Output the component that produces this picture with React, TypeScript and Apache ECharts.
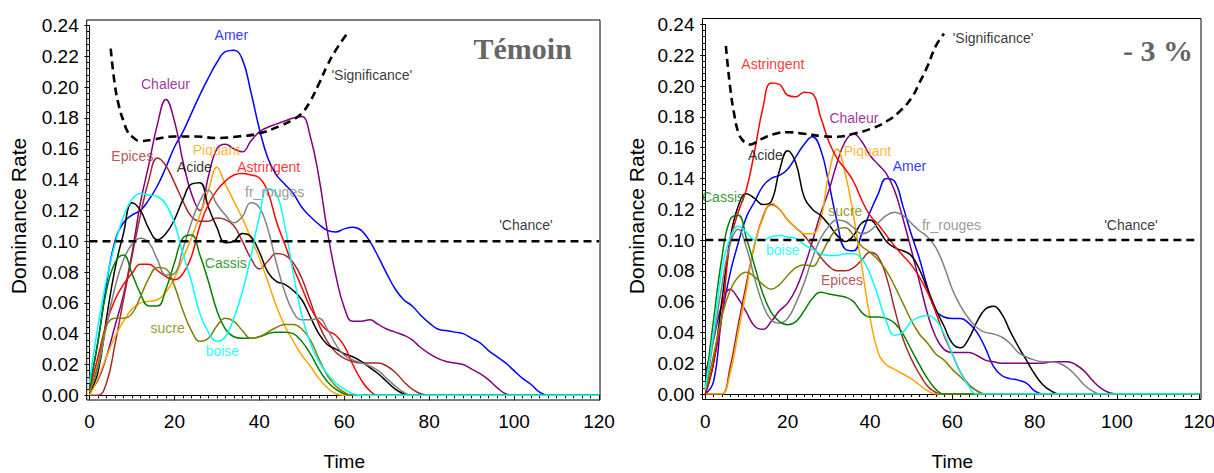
import React, { useEffect, useRef } from "react";
import * as echarts from "echarts";

// ---------- data ----------
const T = [0,2,4,6,8,10,12,14,16,18,20,22,24,26,28,30,32,34,36,38,40,42,44,46,48,50,52,54,56,58,60,62,64,66,68,70,72,74,76,78,80,82,84,86,88,90,92,94,96,98,100,102,104,106,108,110];

const attributes = ["Amer","Chaleur","Epices","Piquant","Acide","Astringent","fr_rouges","Cassis","sucre","boise"];
const attrColors = ["#0000ff","#800080","#a52a2a","#ffa500","#000000","#ff0000","#808080","#008000","#808000","#00ffff"];

// Left panel: Témoin
const amerL = [0.005,0.035,0.072,0.100,0.112,0.117,0.120,0.127,0.136,0.148,0.161,0.171,0.183,0.195,0.206,0.216,0.223,0.224,0.218,0.197,0.173,0.154,0.143,0.137,0.131,0.122,0.116,0.111,0.107,0.106,0.108,0.109,0.107,0.100,0.090,0.079,0.069,0.062,0.058,0.052,0.047,0.043,0.042,0.041,0.040,0.037,0.034,0.029,0.025,0.021,0.016,0.011,0.007,0.002,0];
const chaleurL = [0.002,0.010,0.025,0.045,0.065,0.092,0.125,0.150,0.176,0.192,0.178,0.152,0.131,0.120,0.142,0.160,0.163,0.160,0.158,0.165,0.171,0.174,0.176,0.178,0.180,0.181,0.168,0.142,0.107,0.078,0.057,0.048,0.048,0.049,0.046,0.043,0.041,0.039,0.036,0.031,0.027,0.024,0.022,0.021,0.020,0.017,0.014,0.010,0.005,0.001,0];
const epicesL = [0,0,0.008,0.033,0.062,0.090,0.117,0.140,0.154,0.149,0.138,0.126,0.116,0.113,0.113,0.115,0.114,0.110,0.100,0.089,0.082,0.087,0.092,0.091,0.086,0.076,0.061,0.046,0.035,0.028,0.024,0.022,0.021,0.021,0.021,0.019,0.015,0.009,0.004,0.001,0];
const piquantL = [0,0.011,0.025,0.038,0.048,0.056,0.060,0.061,0.062,0.067,0.076,0.089,0.102,0.117,0.133,0.148,0.137,0.126,0.115,0.102,0.089,0.074,0.058,0.045,0.035,0.026,0.019,0.011,0.005,0.001,0];
const acideL = [0.002,0.015,0.050,0.082,0.105,0.125,0.120,0.108,0.101,0.105,0.114,0.127,0.137,0.138,0.122,0.109,0.099,0.100,0.105,0.103,0.093,0.080,0.074,0.072,0.068,0.062,0.051,0.040,0.033,0.030,0.027,0.025,0.022,0.018,0.014,0.009,0.004,0.001,0];
const astringentL = [0.003,0.025,0.047,0.062,0.072,0.079,0.085,0.085,0.081,0.077,0.075,0.079,0.090,0.110,0.124,0.133,0.139,0.143,0.144,0.143,0.141,0.132,0.113,0.098,0.083,0.070,0.057,0.048,0.042,0.039,0.032,0.020,0.010,0.003,0];
const frRougesL = [0.002,0.018,0.045,0.070,0.088,0.098,0.102,0.099,0.088,0.078,0.079,0.095,0.112,0.126,0.133,0.124,0.117,0.112,0.116,0.125,0.122,0.108,0.086,0.067,0.054,0.049,0.049,0.050,0.043,0.033,0.026,0.023,0.021,0.019,0.016,0.011,0.006,0.002,0];
const cassisL = [0.005,0.035,0.068,0.086,0.091,0.079,0.066,0.058,0.058,0.069,0.086,0.102,0.104,0.091,0.074,0.055,0.043,0.038,0.037,0.037,0.038,0.040,0.041,0.041,0.040,0.035,0.027,0.017,0.009,0.004,0.001,0];
const sucreL = [0.002,0.020,0.045,0.050,0.050,0.053,0.064,0.076,0.083,0.082,0.071,0.055,0.042,0.035,0.037,0.045,0.050,0.048,0.042,0.037,0.038,0.041,0.044,0.046,0.046,0.043,0.036,0.024,0.013,0.006,0.002,0];
const boiseL = [0.008,0.045,0.075,0.098,0.116,0.127,0.131,0.130,0.129,0.124,0.112,0.092,0.074,0.053,0.041,0.035,0.038,0.050,0.067,0.090,0.116,0.134,0.131,0.110,0.079,0.052,0.034,0.022,0.014,0.008,0.004,0.001,0];

// Right panel: - 3 %
const amerR = [0,0.008,0.050,0.078,0.098,0.115,0.125,0.135,0.140,0.142,0.146,0.154,0.162,0.167,0.159,0.137,0.112,0.094,0.093,0.104,0.118,0.130,0.140,0.138,0.122,0.104,0.088,0.069,0.054,0.050,0.049,0.049,0.046,0.040,0.030,0.018,0.012,0.010,0.009,0.007,0.002,0];
const chaleurR = [0.013,0.035,0.058,0.068,0.062,0.053,0.044,0.042,0.047,0.054,0.059,0.068,0.082,0.099,0.117,0.132,0.150,0.164,0.169,0.164,0.155,0.149,0.143,0.132,0.114,0.094,0.073,0.052,0.037,0.029,0.027,0.027,0.027,0.025,0.022,0.021,0.020,0.020,0.020,0.020,0.020,0.020,0.021,0.021,0.021,0.019,0.015,0.009,0.004,0.001,0];
const epicesR = [0,0,0,0.017,0.045,0.072,0.097,0.115,0.123,0.120,0.113,0.108,0.103,0.096,0.089,0.083,0.080,0.080,0.082,0.087,0.092,0.089,0.076,0.055,0.036,0.023,0.013,0.005,0.001,0];
const piquantR = [0,0,0,0.013,0.040,0.068,0.098,0.114,0.124,0.120,0.113,0.108,0.104,0.104,0.113,0.143,0.159,0.143,0.116,0.083,0.050,0.027,0.019,0.016,0.013,0.010,0.006,0.002,0];
const acideR = [0,0.020,0.060,0.100,0.122,0.130,0.127,0.123,0.125,0.145,0.158,0.150,0.128,0.120,0.116,0.110,0.103,0.099,0.103,0.111,0.113,0.107,0.099,0.095,0.093,0.090,0.081,0.068,0.055,0.044,0.033,0.030,0.036,0.047,0.055,0.057,0.052,0.041,0.031,0.022,0.013,0.006,0.002,0];
const astringentR = [0,0.020,0.050,0.098,0.118,0.133,0.158,0.186,0.202,0.201,0.194,0.193,0.196,0.195,0.180,0.164,0.153,0.146,0.138,0.126,0.116,0.110,0.103,0.096,0.090,0.084,0.076,0.066,0.053,0.038,0.026,0.014,0.006,0.002,0];
const frRougesR = [0.003,0.035,0.070,0.097,0.107,0.095,0.075,0.058,0.048,0.046,0.049,0.059,0.072,0.088,0.101,0.109,0.113,0.112,0.108,0.104,0.106,0.111,0.116,0.118,0.116,0.111,0.106,0.102,0.095,0.083,0.068,0.057,0.049,0.043,0.040,0.039,0.037,0.033,0.027,0.024,0.022,0.021,0.021,0.020,0.017,0.012,0.006,0.002,0];
const cassisR = [0.005,0.048,0.088,0.113,0.116,0.101,0.083,0.065,0.053,0.047,0.045,0.047,0.054,0.062,0.066,0.065,0.064,0.063,0.060,0.053,0.050,0.050,0.049,0.046,0.039,0.029,0.019,0.010,0.003,0];
const sucreR = [0.002,0.025,0.050,0.067,0.076,0.079,0.076,0.071,0.068,0.071,0.077,0.082,0.084,0.083,0.090,0.100,0.107,0.108,0.103,0.096,0.092,0.087,0.080,0.070,0.059,0.048,0.039,0.033,0.026,0.022,0.016,0.011,0.006,0.002,0];
const boiseR = [0.003,0.040,0.080,0.101,0.109,0.105,0.100,0.100,0.102,0.103,0.102,0.101,0.097,0.094,0.091,0.090,0.090,0.091,0.091,0.088,0.078,0.063,0.047,0.038,0.040,0.047,0.050,0.051,0.048,0.039,0.026,0.014,0.005,0];

// Significance thresholds
const sigLT = [5,6,7,8,9,10,12,15,20,25,30,35,40,45,48,50,52,54,56,58,61];
const sigLV = [0.225,0.201,0.187,0.178,0.171,0.168,0.165,0.166,0.168,0.168,0.167,0.168,0.170,0.175,0.179,0.183,0.191,0.202,0.214,0.224,0.236];
const sigRT = [5,6,7,8,9,10,11,12,14,17,20,24,28,32,36,40,44,47,50,52,54,56,58];
const sigRV = [0.226,0.200,0.182,0.170,0.165,0.163,0.162,0.163,0.166,0.169,0.170,0.169,0.1675,0.167,0.169,0.172,0.177,0.183,0.192,0.202,0.213,0.226,0.234];
const chanceT = [0, 120];
const chanceV = [0.1, 0.1];
const endT = 120;

const seriesL = [amerL, chaleurL, epicesL, piquantL, acideL, astringentL, frRougesL, cassisL, sucreL, boiseL];
const seriesR = [amerR, chaleurR, epicesR, piquantR, acideR, astringentR, frRougesR, cassisR, sucreR, boiseR];

// label anchors in data units (time, rate)
const labelPosL: Record<string, number[]> = { Amer: [33.4, 0.234], Chaleur: [17.9, 0.202], Epices: [10.1, 0.155], Piquant: [29.9, 0.159], Acide: [24.7, 0.148], Astringent: [42.2, 0.148], fr_rouges: [43.6, 0.132], Cassis: [32.1, 0.086], sucre: [18.4, 0.044], boise: [31.3, 0.029] };
const labelPosR: Record<string, number[]> = { Amer: [49.6, 0.148], Chaleur: [36.1, 0.179], Epices: [33.2, 0.074], Piquant: [39.4, 0.158], Acide: [14.6, 0.155], Astringent: [16.4, 0.214], fr_rouges: [59.8, 0.110], Cassis: [4.3, 0.128], sucre: [34.0, 0.119], boise: [18.8, 0.0935] };
const refLabelsL: Record<string, number[]> = { "'Significance'": [66.5, 0.208], "'Chance'": [102.8, 0.1105] };
const refLabelsR: Record<string, number[]> = { "'Significance'": [69.9, 0.231], "'Chance'": [103.4, 0.110] };
const panelTitles = ["Témoin", "- 3 %"];
const yTitle = "Dominance Rate";

// ---------- layout ----------
const SANS = "'Liberation Sans', Arial, sans-serif";
const grids = [
  { left: 89.5, top: 25.5, width: 509.5, height: 369.8 },
  { left: 705.3, top: 24.4, width: 494, height: 369.6 },
];
const frames = [
  { x: 86.7, y: 20, w: 513.3, h: 380 },
  { x: 702.5, y: 18.5, w: 498.5, h: 381 },
];
const titlePos = [[522.7, 48], [1158, 50]];
const yTitlePos = [[18, 216], [636, 216]];

function buildOption() {
  const series: any[] = [];
  const panels = [
    { vals: seriesL, sigT: sigLT, sigV: sigLV, lab: labelPosL, ref: refLabelsL },
    { vals: seriesR, sigT: sigRT, sigV: sigRV, lab: labelPosR, ref: refLabelsR },
  ];
  panels.forEach((p, gi) => {
    series.push({
      type: "line", xAxisIndex: gi, yAxisIndex: gi, symbol: "none", smooth: 0.5, z: 3,
      data: p.sigT.map((t, i) => [t, p.sigV[i]]),
      lineStyle: { color: "#000", width: 2.6, type: [8, 5] },
    });
    series.push({
      type: "line", xAxisIndex: gi, yAxisIndex: gi, symbol: "none", z: 3,
      data: chanceT.map((t, i) => [t, chanceV[i]]),
      lineStyle: { color: "#000", width: 2.6, type: [8, 5] },
    });
    attributes.forEach((name, k) => {
      const vals = p.vals[k];
      const data = vals.map((v, i) => [T[i], v]);
      data.push([endT, 0]);
      series.push({
        type: "line", name, xAxisIndex: gi, yAxisIndex: gi, symbol: "none", smooth: 0.45,
        data, lineStyle: { color: attrColors[k], width: 1.5 }, z: 2,
      });
    });
    const labData: any[] = attributes.map((name, k) => ({
      name, value: p.lab[name], label: { color: attrColors[k] },
    }));
    Object.keys(p.ref).forEach((name) => labData.push({ name, value: p.ref[name], label: { color: "#000" } }));
    series.push({
      type: "scatter", xAxisIndex: gi, yAxisIndex: gi, symbolSize: 1, silent: true, z: 5,
      itemStyle: { color: "rgba(0,0,0,0)" },
      label: { show: true, position: "inside", formatter: (pp: any) => pp.name, fontSize: 14, fontFamily: SANS },
      data: labData,
    });
  });

  const xAxis = grids.map((g, gi) => ({
    gridIndex: gi, type: "value", min: 0, max: 120, interval: 20,
    offset: gi === 0 ? 4.7 : 5.5,
    axisLine: { show: true, lineStyle: { color: "#000", width: 1 } },
    axisTick: { show: true, length: 5, lineStyle: { color: "#000" } },
    minorTick: { show: true, splitNumber: 10, length: 3, lineStyle: { color: "#000" } },
    splitLine: { show: false }, minorSplitLine: { show: false },
    axisLabel: { fontSize: 19, color: "#000", margin: 12, fontFamily: SANS },
    name: "Time", nameLocation: "middle", nameGap: 52,
    nameTextStyle: { fontSize: 19, color: "#000", fontFamily: SANS },
  }));
  const yAxis = grids.map((g, gi) => ({
    gridIndex: gi, type: "value", min: 0, max: 0.24, interval: 0.02, offset: 2.8,
    axisLine: { show: true, lineStyle: { color: "#000", width: 1 } },
    axisTick: { show: true, length: 5, lineStyle: { color: "#000" } },
    minorTick: { show: true, splitNumber: 5, length: 3, lineStyle: { color: "#000" } },
    splitLine: { show: false }, minorSplitLine: { show: false },
    axisLabel: { fontSize: 19, color: "#000", margin: 8, fontFamily: SANS, formatter: (v: number) => v.toFixed(2) },
  }));

  const graphic: any[] = [];
  frames.forEach((f) => graphic.push({
    type: "rect", silent: true, z: 10,
    shape: { x: f.x, y: f.y, width: f.w, height: f.h },
    style: { fill: "none", stroke: "#000", lineWidth: 1 },
  }));
  panelTitles.forEach((t, i) => graphic.push({
    type: "text", x: titlePos[i][0], y: titlePos[i][1], z: 10,
    style: { text: t, fill: "#666666", font: "bold 30px 'Liberation Serif', 'Times New Roman', serif", align: "center", verticalAlign: "middle" },
  }));
  yTitlePos.forEach((pos) => graphic.push({
    type: "text", x: pos[0], y: pos[1], rotation: Math.PI / 2, z: 10,
    style: { text: yTitle, fill: "#000", font: "21px " + SANS, align: "center", verticalAlign: "middle" },
  }));

  return {
    animation: false,
    backgroundColor: "#ffffff",
    grid: grids.map((g) => ({ ...g, containLabel: false, outerBoundsMode: "none" })),
    xAxis, yAxis, series, graphic,
  };
}

export default function App() {
  const ref = useRef<HTMLDivElement>(null);
  useEffect(() => {
    if (!ref.current) return;
    const chart = echarts.init(ref.current, null, { renderer: "svg" });
    chart.setOption(buildOption() as any);
    return () => chart.dispose();
  }, []);
  return <div ref={ref} style={{ position: "absolute", left: 0, top: 0, width: 1214, height: 473 }} />;
}
